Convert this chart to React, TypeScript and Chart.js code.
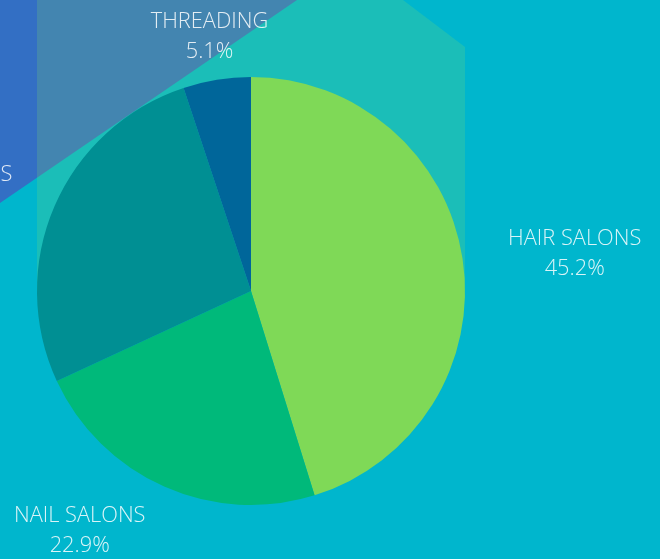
import React, { useEffect, useRef } from "react";
import { Chart, registerables } from "chart.js";

Chart.register(...registerables);

const categories = ["HAIR SALONS", "NAIL SALONS", "BARBERSHOPS", "THREADING"];
const shares = [45.2, 22.9, 26.8, 5.1];
const sliceColors = ["#7fd957", "#00b97a", "#008f93", "#00669a"];

const backgroundPlugin = {
  id: "bgShapes",
  beforeDraw(chart: any) {
    const ctx = chart.ctx;
    const w = chart.width;
    const h = chart.height;
    const meta = chart.getDatasetMeta(0);
    const arc = meta.data[0];
    if (!arc) return;
    const cx = arc.x;
    const cy = arc.y;
    const r = arc.outerRadius;
    ctx.save();
    ctx.fillStyle = "#00b6cd";
    ctx.fillRect(0, 0, w, h);
    // blue diagonal corner
    ctx.fillStyle = "#336fc4";
    ctx.beginPath();
    ctx.moveTo(0, 0);
    ctx.lineTo(297, 0);
    ctx.lineTo(0, 203);
    ctx.closePath();
    ctx.fill();
    // translucent overlay behind upper half of pie
    ctx.fillStyle = "rgba(135,227,100,0.2)";
    ctx.beginPath();
    ctx.moveTo(cx - r, 0);
    ctx.lineTo(cx + r - 62, 0);
    ctx.lineTo(cx + r, 47);
    ctx.lineTo(cx + r, cy);
    ctx.lineTo(cx - r, cy);
    ctx.closePath();
    ctx.fill();
    ctx.restore();
  },
};

const labelPlugin = {
  id: "outerLabels",
  afterDraw(chart: any) {
    const ctx = chart.ctx;
    const meta = chart.getDatasetMeta(0);
    ctx.save();
    ctx.font = "300 21.8px 'Open Sans'";
    ctx.fillStyle = "rgba(255,255,255,0.85)";
    ctx.textBaseline = "middle";
    ctx.textAlign = "center";
    meta.data.forEach((arc: any, i: number) => {
      const mid = (arc.startAngle + arc.endAngle) / 2;
      const d = arc.outerRadius * 1.215;
      const px = arc.x + Math.cos(mid) * d;
      const py = arc.y + Math.sin(mid) * d + 2;
      const name = categories[i];
      const val = shares[i].toFixed(1) + "%";
      const bw = Math.max(ctx.measureText(name).width, ctx.measureText(val).width);
      const c = Math.cos(mid);
      let center = px;
      if (c > 0.3) center = px + bw / 2;
      else if (c < -0.3) center = px - bw / 2;
      ctx.fillText(name, center, py - 15);
      ctx.fillText(val, center, py + 15);
    });
    ctx.restore();
  },
};

export default function App() {
  const ref = useRef<HTMLCanvasElement>(null);
  useEffect(() => {
    document.body.style.margin = "0";
    const chart = new Chart(ref.current!, {
      type: "pie",
      data: {
        labels: categories,
        datasets: [
          {
            data: shares,
            backgroundColor: sliceColors,
            borderWidth: 0,
          },
        ],
      },
      options: {
        animation: false,
        responsive: false,
        layout: { padding: { top: 77, bottom: 54, left: 37, right: 195 } },
        plugins: { legend: { display: false }, tooltip: { enabled: false } },
      },
      plugins: [backgroundPlugin, labelPlugin],
    });
    return () => chart.destroy();
  }, []);
  return <canvas ref={ref} width={660} height={559} style={{ display: "block" }} />;
}
